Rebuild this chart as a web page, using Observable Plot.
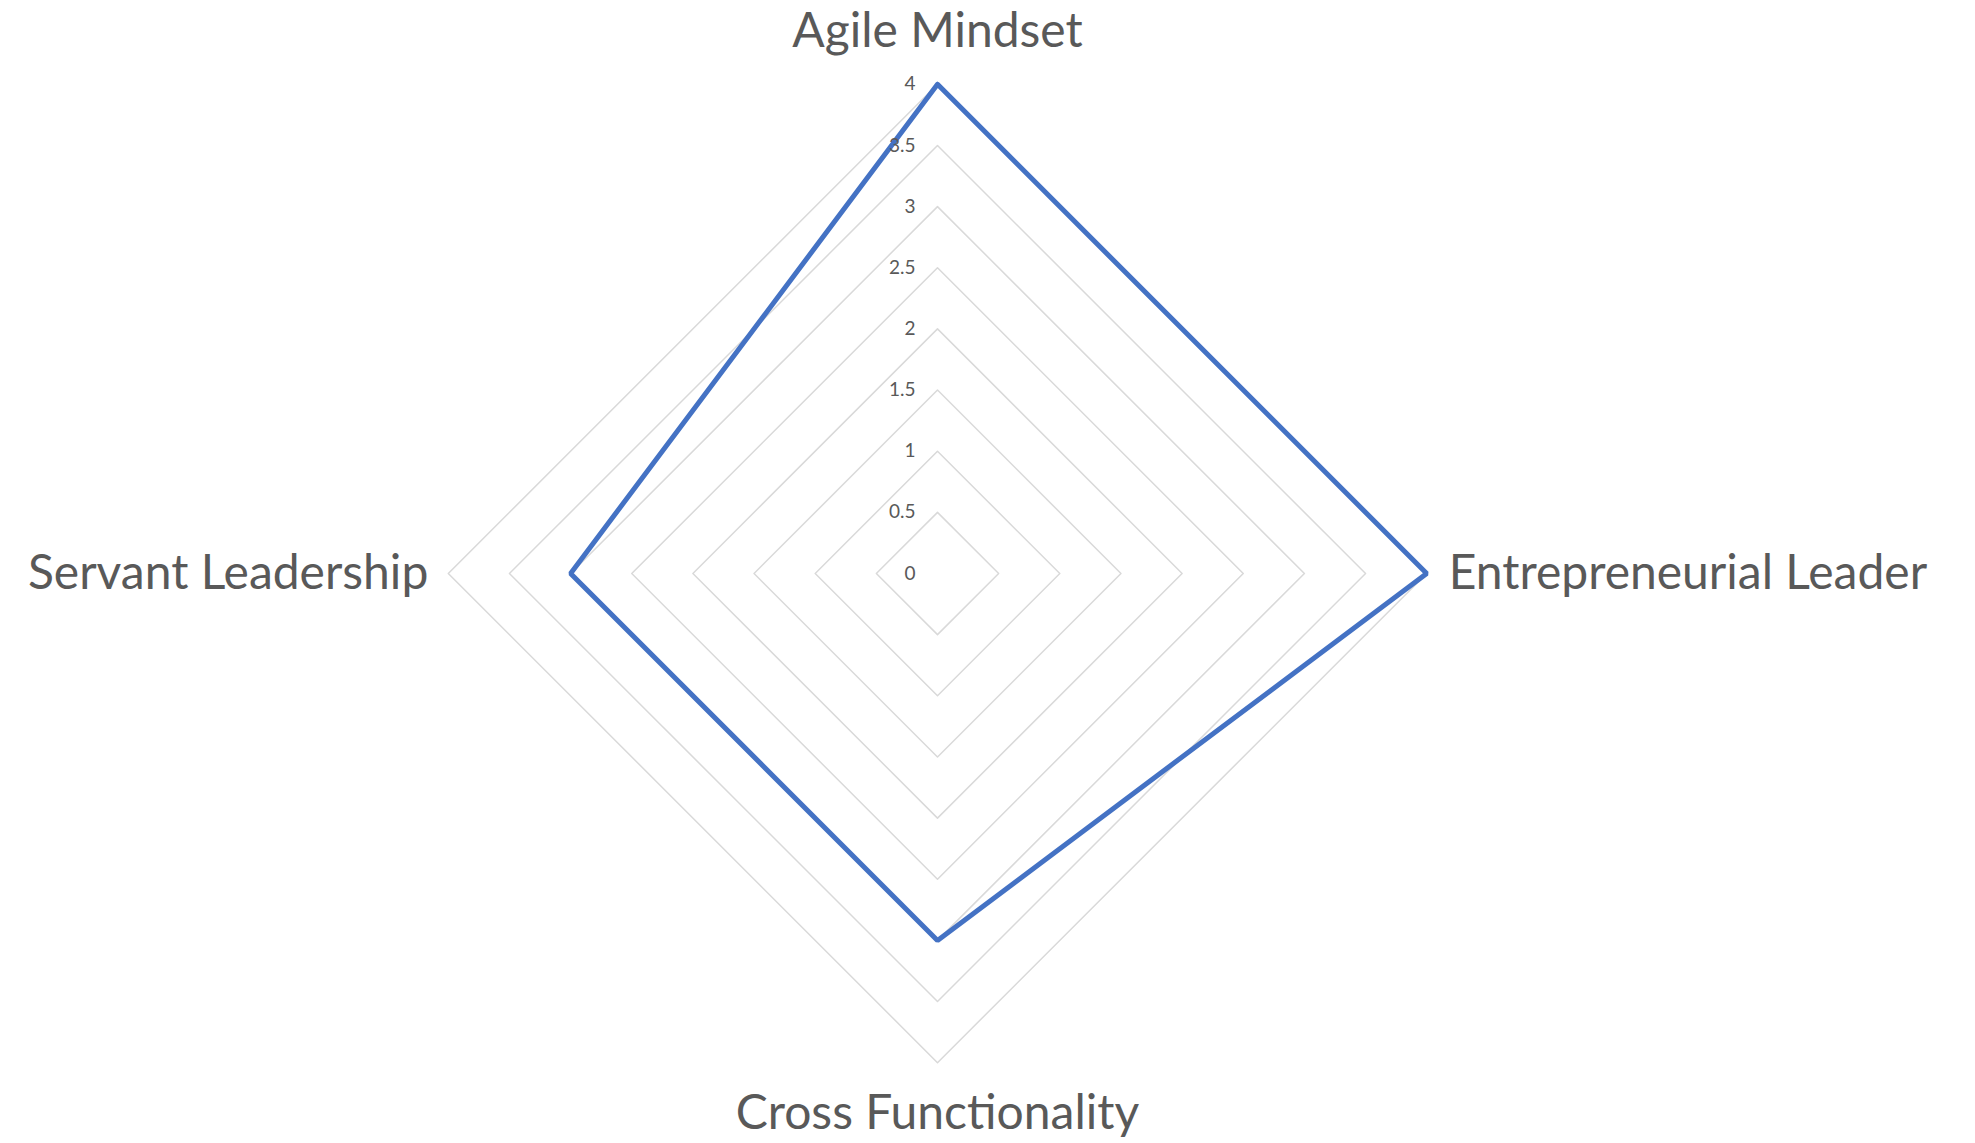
<!DOCTYPE html>
<html><head><meta charset="utf-8">
<script src="https://cdn.jsdelivr.net/npm/d3@7"></script>
<script src="https://cdn.jsdelivr.net/npm/@observablehq/plot@0.6"></script>
<style>body{margin:0;background:#fff;overflow:hidden}</style>
</head><body><div id="chart"></div>
<script>
const categories = ["Agile Mindset", "Entrepreneurial Leader", "Cross Functionality", "Servant Leadership"];
const values = [4, 4, 3, 3];
const ticks = [0, 0.5, 1, 1.5, 2, 2.5, 3, 3.5, 4];
const tickLabels = ["0", "0.5", "1", "1.5", "2", "2.5", "3", "3.5", "4"];

const W = 1975, H = 1143, cx = 937, cy = 573, pxPerUnit = 122.3;
const rMax = d3.max(ticks);
const n = categories.length;
const angle = i => Math.PI / 2 - i * 2 * Math.PI / n;
const pt = (r, i) => ({x: r * Math.cos(angle(i)), y: r * Math.sin(angle(i))});

const gridData = ticks.filter(t => t > 0).flatMap(t =>
  [...categories.map((c, i) => ({...pt(t, i), ring: t})), {...pt(t, 0), ring: t}]);
const seriesData = [...values.map((v, i) => pt(v, i)), pt(values[0], 0)];
const tickData = ticks.map((t, i) => ({y: t, label: tickLabels[i]}));
const labelData = categories.map((c, i) => {
  const a = angle(i), ca = Math.round(Math.cos(a)), sa = Math.round(Math.sin(a));
  return {...pt(rMax, i), label: c, ca, sa};
});

const catFont = 48;
const chart = Plot.plot({
  width: W, height: H,
  margin: 0,
  x: {domain: [-cx / pxPerUnit, (W - cx) / pxPerUnit], range: [0, W], axis: null},
  y: {domain: [-(H - cy) / pxPerUnit, cy / pxPerUnit], range: [H, 0], axis: null},
  style: {fontFamily: "Lato, 'Open Sans', sans-serif", background: "#fff"},
  marks: [
    Plot.line(gridData, {x: "x", y: "y", z: "ring", stroke: "#D9D9D9", strokeWidth: 1.5}),
    Plot.line(seriesData, {x: "x", y: "y", stroke: "#4472C4", strokeWidth: 5, strokeLinejoin: "miter"}),
    Plot.text(tickData, {x: () => 0, y: "y", text: "label", textAnchor: "end", dx: -22, fontSize: 19, fill: "#595959"}),
    Plot.text(labelData.filter(d => d.sa === 1), {x: "x", y: "y", text: "label", dy: -53, fontSize: catFont, fill: "#595959"}),
    Plot.text(labelData.filter(d => d.sa === -1), {x: "x", y: "y", text: "label", dy: 51, fontSize: catFont, fill: "#595959"}),
    Plot.text(labelData.filter(d => d.ca === 1), {x: "x", y: "y", text: "label", dx: 22, textAnchor: "start", fontSize: catFont, fill: "#595959"}),
    Plot.text(labelData.filter(d => d.ca === -1), {x: "x", y: "y", text: "label", dx: -20, textAnchor: "end", fontSize: catFont, fill: "#595959"})
  ]
});
document.getElementById("chart").appendChild(chart);
</script>
</body></html>
